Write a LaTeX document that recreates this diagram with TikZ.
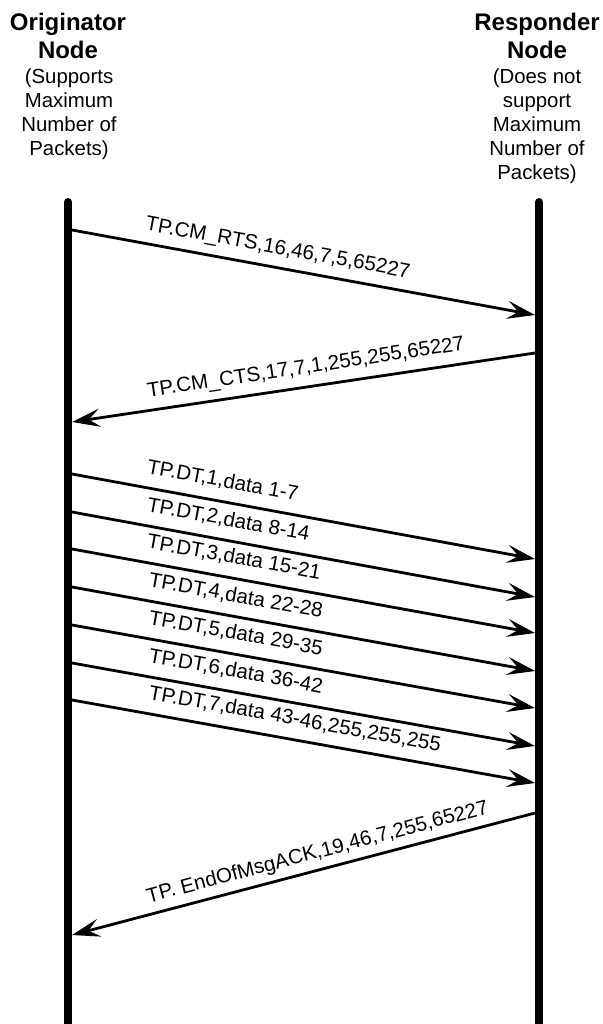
\documentclass[tikz,border=0pt]{standalone}
\usepackage{fontspec}
\setmainfont{Liberation Sans}
\usetikzlibrary{arrows.meta}
\begin{document}
\begin{tikzpicture}[x=1pt,y=-1pt,
  life/.style={line width=8pt, line cap=round},
  msg/.style={line width=2.8pt, -{Stealth[length=28pt,width=18pt,inset=11pt]}},
  lbl/.style={sloped, anchor=south west, inner xsep=0pt, inner ysep=#1, text depth=0pt, font=\fontsize{20.6}{24}\selectfont},
  lbl/.default=13pt,
  ttl/.style={anchor=north, inner sep=0pt, align=center, font=\fontsize{24}{28}\selectfont\bfseries},
  nte/.style={anchor=north, inner sep=0pt, align=center, font=\fontsize{20.4}{24}\selectfont}]
\useasboundingbox (0,0) rectangle (602,1024);

% headers
\node[ttl] (titleL) at (68,13) {Originator\\Node};
\node[nte] (noteL) at (69,68.4) {(Supports\\Maximum\\Number of\\Packets)};
\node[ttl] (titleR) at (537,13) {Responder\\Node};
\node[nte] (noteR) at (537,68.4) {(Does not\\support\\Maximum\\Number of\\Packets)};

% lifelines
\coordinate (topL) at (68,202);
\coordinate (botL) at (68,1040);
\coordinate (topR) at (539,202);
\coordinate (botR) at (539,1040);
\draw[life] (topL) -- (botL);
\draw[life] (topR) -- (botR);

% RTS
\coordinate (a1) at (72,230);
\coordinate (b1) at (535,315);
\draw[msg] (a1) -- node[lbl=12pt, pos=0.149] (lrts) {TP.CM\_RTS,16,46,7,5,65227} (b1);

% CTS
\coordinate (b2) at (535,353);
\coordinate (a2) at (72,422);
\draw[msg] (b2) -- node[lbl=12pt, pos=0.834] (lcts) {TP.CM\_CTS,17,7,1,255,255,65227} (a2);

% data transfers
\coordinate (d1a) at (72,474); \coordinate (d1b) at (535,559);
\coordinate (d2a) at (72,512); \coordinate (d2b) at (535,597);
\coordinate (d3a) at (72,549); \coordinate (d3b) at (535,633);
\coordinate (d4a) at (72,587); \coordinate (d4b) at (535,671);
\coordinate (d5a) at (72,625); \coordinate (d5b) at (535,708);
\coordinate (d6a) at (72,663); \coordinate (d6b) at (535,746);
\coordinate (d7a) at (72,700); \coordinate (d7b) at (535,783);
\draw[msg] (d1a) -- node[lbl, pos=0.152] (ld1) {TP.DT,1,data 1-7} (d1b);
\draw[msg] (d2a) -- node[lbl, pos=0.152] (ld2) {TP.DT,2,data 8-14} (d2b);
\draw[msg] (d3a) -- node[lbl, pos=0.152] (ld3) {TP.DT,3,data 15-21} (d3b);
\draw[msg] (d4a) -- node[lbl, pos=0.156] (ld4) {TP.DT,4,data 22-28} (d4b);
\draw[msg] (d5a) -- node[lbl, pos=0.156] (ld5) {TP.DT,5,data 29-35} (d5b);
\draw[msg] (d6a) -- node[lbl, pos=0.156] (ld6) {TP.DT,6,data 36-42} (d6b);
\draw[msg] (d7a) -- node[lbl, pos=0.156] (ld7) {TP.DT,7,data 43-46,255,255,255} (d7b);

% EndOfMsgACK
\coordinate (b3) at (535,813);
\coordinate (a3) at (72,935);
\draw[msg] (b3) -- node[lbl=10pt, pos=0.831] (lack) {TP. EndOfMsgACK,19,46,7,255,65227} (a3);
\end{tikzpicture}
\end{document}
